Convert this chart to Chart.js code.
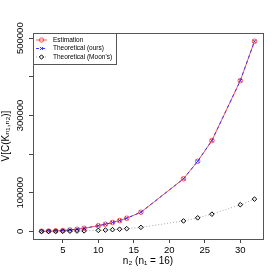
<!DOCTYPE html>
<html>
<head>
<meta charset="utf-8">
<script src="https://cdn.jsdelivr.net/npm/chart.js@4.4.1/dist/chart.umd.min.js"></script>
<style>
html,body{margin:0;padding:0;background:#fff;}
canvas{display:block;}
</style>
</head>
<body>
<canvas id="c" width="280" height="280"></canvas>
<script>
const n2Values = [2, 3, 4, 5, 6, 7, 8, 10, 11, 12, 13, 14, 16, 22, 24, 26, 30, 32];
const estimation = [300, 700, 1300, 2200, 3600, 5400, 8000, 14700, 18500, 23000, 28000, 34000, 49500, 136000, 181500, 235000, 390000, 492000];
const theoreticalOurs = [300, 700, 1300, 2200, 3600, 5400, 8000, 14700, 18500, 23000, 28000, 34000, 49500, 136000, 181500, 235000, 390000, 492000];
const theoreticalMoon = [20, 70, 160, 320, 550, 870, 1300, 2550, 3400, 4400, 5600, 7000, 10400, 27000, 35000, 44500, 69000, 83500];
const xTicks = [5, 10, 15, 20, 25, 30];
const yTicks = [0, 100000, 200000, 300000, 400000, 500000];
const yTickLabels = ['0', '100000', '', '300000', '', '500000'];
const seriesNames = ['Estimation', 'Theoretical (ours)', "Theoretical (Moon's)"];
const xTitle = 'n₂ (n₁ = 16)';
const yTitle = 'V[C(Kₙ₁,ₙ₂)]';

const FONT = '"Liberation Sans", Arial, "DejaVu Sans", sans-serif';
const pts = arr => n2Values.map((x, i) => ({x: x, y: arr[i]}));

const styles = [
  {color: 'rgba(255,60,60,0.85)', pointStyle: 'circle', pointColor: 'rgba(255,60,60,0.85)', dash: []},
  {color: 'rgba(40,40,255,0.9)', pointStyle: 'crossRot', pointColor: 'rgba(40,40,255,0.9)', dash: [3, 3]},
  {color: '#aaaaaa', pointStyle: 'rectRot', pointColor: '#000000', dash: [1, 2]}
];

const bgPlugin = {
  id: 'bg',
  beforeDraw(chart) {
    const ctx = chart.ctx;
    ctx.save();
    ctx.fillStyle = '#fff';
    ctx.fillRect(0, 0, chart.width, chart.height);
    ctx.restore();
  }
};

const decorPlugin = {
  id: 'decor',
  afterDraw(chart) {
    const ctx = chart.ctx;
    const a = chart.chartArea;
    ctx.save();
    // box
    ctx.strokeStyle = '#555';
    ctx.lineWidth = 1;
    ctx.strokeRect(Math.round(a.left) + 0.5, Math.round(a.top) + 0.5, Math.round(a.right - a.left), Math.round(a.bottom - a.top));
    // y tick labels rotated
    const ys = chart.scales.y;
    ctx.fillStyle = '#000';
    ctx.font = '9.5px ' + FONT;
    ctx.textAlign = 'center';
    ctx.textBaseline = 'middle';
    yTicks.forEach((v, i) => {
      if (!yTickLabels[i]) return;
      const py = ys.getPixelForValue(v);
      ctx.save();
      ctx.translate(20, py);
      ctx.rotate(-Math.PI / 2);
      ctx.fillText(yTickLabels[i], 0, 0);
      ctx.restore();
    });
    // legend
    const lx = Math.round(a.left) + 0.5, ly = Math.round(a.top) + 0.5;
    ctx.strokeStyle = '#555';
    ctx.strokeRect(lx, ly, 83, 31);
    ctx.font = '6.5px ' + FONT;
    ctx.textAlign = 'left';
    const rows = [40, 48.5, 57];
    seriesNames.forEach((name, i) => {
      const s = styles[i];
      const y = rows[i];
      ctx.save();
      ctx.strokeStyle = s.color;
      ctx.lineWidth = 1;
      ctx.setLineDash(s.dash);
      ctx.beginPath();
      ctx.moveTo(36, y);
      ctx.lineTo(47, y);
      ctx.stroke();
      ctx.restore();
      if (Chart.helpers && Chart.helpers.drawPoint) {
        ctx.save();
        ctx.strokeStyle = s.pointColor;
        ctx.fillStyle = 'rgba(0,0,0,0)';
        ctx.lineWidth = 1;
        Chart.helpers.drawPoint(ctx, {pointStyle: s.pointStyle, radius: 2.2, rotation: 0, borderWidth: 1}, 41.5, y);
        ctx.restore();
      }
      ctx.fillStyle = '#000';
      ctx.fillText(name, 53, y);
    });
    ctx.restore();
  }
};

const datasets = [estimation, theoreticalOurs, theoreticalMoon].map((arr, i) => ({
  label: seriesNames[i],
  data: pts(arr),
  borderColor: styles[i].color,
  borderWidth: 1,
  borderDash: styles[i].dash,
  pointStyle: styles[i].pointStyle,
  pointRadius: 2.3,
  pointBorderWidth: 1,
  pointBorderColor: styles[i].pointColor,
  pointBackgroundColor: 'rgba(0,0,0,0)',
  fill: false,
  tension: 0,
  order: 3 - i
}));

new Chart(document.getElementById('c'), {
  type: 'line',
  data: {datasets: datasets},
  plugins: [bgPlugin, decorPlugin],
  options: {
    responsive: false,
    animation: false,
    devicePixelRatio: 1,
    layout: {padding: {top: 33, right: 17, bottom: 13, left: 0}},
    plugins: {legend: {display: false}, tooltip: {enabled: false}},
    scales: {
      x: {
        type: 'linear',
        min: 0.8,
        max: 33.2,
        afterBuildTicks: s => { s.ticks = xTicks.map(v => ({value: v})); },
        afterFit: s => { s.height = 28; },
        grid: {drawOnChartArea: false, drawTicks: true, tickLength: 4, color: '#444'},
        border: {display: false},
        ticks: {color: '#000', font: {size: 9.5, family: FONT}, padding: 2, maxRotation: 0, autoSkip: false,
          callback: v => String(v)},
        title: {display: true, text: xTitle, color: '#000', font: {size: 10, family: FONT}, padding: 0}
      },
      y: {
        type: 'linear',
        min: -19750,
        max: 513400,
        afterBuildTicks: s => { s.ticks = yTicks.map(v => ({value: v})); },
        afterFit: s => { s.width = 33; },
        grid: {drawOnChartArea: false, drawTicks: true, tickLength: 4, color: '#444'},
        border: {display: false},
        ticks: {display: false},
        title: {display: true, text: yTitle, color: '#000', font: {size: 10, family: FONT}, padding: 0}
      }
    }
  }
});
</script>
</body>
</html>
